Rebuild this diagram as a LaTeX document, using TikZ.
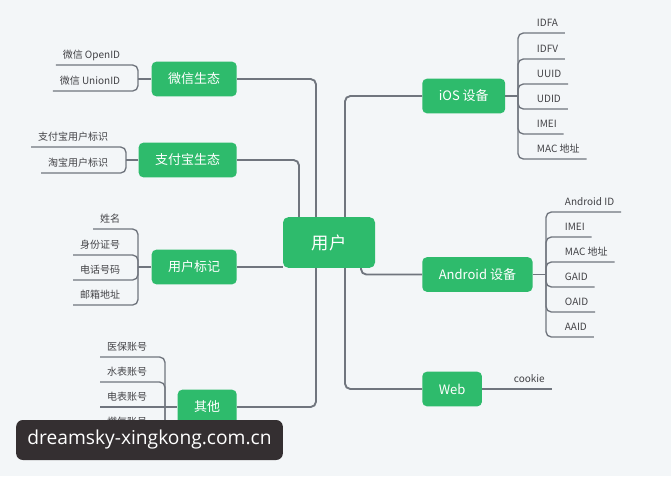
\documentclass[tikz,border=0pt]{standalone}
\usepackage{fontspec}
\setmainfont{Noto Sans CJK SC}
\newfontfamily\stampfont{Open Sans}
\usepackage{tikz}
\definecolor{mindgreen}{RGB}{46,187,108}
\definecolor{linegray}{RGB}{112,117,126}
\definecolor{leaftext}{RGB}{66,66,70}
\definecolor{canvas}{RGB}{243,246,248}
\definecolor{stampbg}{RGB}{52,47,49}

\begin{document}
\begin{tikzpicture}[x=0.75pt, y=-0.75pt,
      root/.style   = {fill=mindgreen, text=white, rounded corners=4pt,
                       minimum width=69pt, minimum height=38pt,
                       font=\fontsize{13}{15}\selectfont},
      branch/.style = {fill=mindgreen, text=white, rounded corners=3.5pt,
                       inner xsep=12.4pt, minimum height=26pt,
                       font=\fontsize{9.75}{11}\selectfont},
      leaf/.style   = {text=leaftext, inner xsep=5pt, inner ysep=0pt,
                       text depth=4.5pt, font=\fontsize{7.5}{9}\selectfont},
      leafL/.style  = {leaf, anchor=south east},
      leafR/.style  = {leaf, anchor=south west},
      trunk/.style  = {draw=linegray, line width=1.4pt, rounded corners=4pt},
      twig/.style   = {draw=linegray, line width=1pt, rounded corners=4pt},
      stamp/.style  = {fill=stampbg, text=white, rounded corners=5pt,
                       minimum width=200pt, minimum height=30pt,
                       font=\stampfont\fontsize{14.4}{17}\selectfont},
    ]

    % --- Sfondo ---
    \fill[canvas] (0,0) rectangle (671,476);
    \useasboundingbox (0,0) rectangle (671,476);

    % --- Rami (colonne X dei raccordi) ---
    \def\hubWx{138}
    \def\hubAp{126}
    \def\hubTag{138}
    \def\hubOt{165}
    \def\hubIos{518}
    \def\hubAnd{546}

    \node[branch, anchor=east] (wechat)  at (237,79)  {微信生态};
    \node[branch, anchor=east] (alipay)  at (237,160) {支付宝生态};
    \node[branch, anchor=east] (usertag) at (237,267) {用户标记};
    \node[branch, anchor=east] (other)   at (237,407) {其他};
    \node[root]                (user)    at (329,242.5) {用户};
    \node[branch, anchor=west] (ios)     at (422,96)  {iOS 设备};
    \node[branch, anchor=west] (android) at (422,274.5) {Android 设备};
    \node[branch, anchor=west] (web)     at (422,389) {Web};

    % --- Tronchi verso il nodo centrale ---
    \coordinate (tL) at (316,0);
    \coordinate (tA) at (299,0);
    \coordinate (tR) at (345,0);
    \coordinate (tD) at (361,0);
    \draw[trunk] (wechat.east) -| (user.north -| tL);
    \draw[trunk] (alipay.east) -| (user.north -| tA);
    \draw[trunk] (usertag.east) -- (usertag.east -| user.west);
    \draw[trunk] (other.east) -| (user.south -| tL);
    \draw[trunk] (ios.west) -| (user.north -| tR);
    \draw[trunk] (android.west) -| (user.south -| tD);
    \draw[trunk] (web.west) -| (user.south -| tR);

    % --- Foglie: 微信生态 ---
    \coordinate (wxhub) at (\hubWx,79);
    \draw[twig] (wechat.west) -- (wxhub);
    \foreach \t/\y [count=\i] in {微信 OpenID/65, 微信 UnionID/91}{
      \node[leafL] (wx\i) at (\hubWx-11,\y) {\t};
      \draw[twig] (wx\i.south west) -| (wxhub);
    }

    % --- Foglie: 支付宝生态 ---
    \coordinate (aphub) at (\hubAp,160);
    \draw[twig] (alipay.west) -- (aphub);
    \foreach \t/\y [count=\i] in {支付宝用户标识/147, 淘宝用户标识/173}{
      \node[leafL] (ap\i) at (\hubAp-11,\y) {\t};
      \draw[twig] (ap\i.south west) -| (aphub);
    }

    % --- Foglie: 用户标记 ---
    \coordinate (tghub) at (\hubTag,267);
    \draw[twig] (usertag.west) -- (tghub);
    \foreach \t/\y [count=\i] in {姓名/229, 身份证号/255, 电话号码/280, 邮箱地址/305}{
      \node[leafL] (tg\i) at (\hubTag-11,\y) {\t};
      \draw[twig] (tg\i.south west) -| (tghub);
    }

    % --- Foglie: 其他 (la quinta resta sotto il timbro) ---
    \coordinate (othub) at (\hubOt,407);
    \foreach \t/\y [count=\i] in {医保账号/357, 水表账号/382, 电表账号/407, 燃气账号/432}{
      \node[leafL] (ot\i) at (\hubOt-11,\y) {\t};
    }
    \coordinate (ot5) at (98,457);
    \draw[twig] (ot1.south west) -| (othub);
    \draw[twig] (ot2.south west) -| (othub);
    \draw[twig] (ot3.south west) -- (other.west);
    \draw[twig] (ot4.south west) -| (othub);
    \draw[twig] (ot5) -| (othub);

    % --- Foglie: iOS 设备 ---
    \coordinate (ioshub) at (\hubIos,96);
    \draw[twig] (ios.east) -- (ioshub);
    \foreach \t/\y [count=\i] in {IDFA/33, IDFV/59, UUID/84, UDID/109, IMEI/134, MAC 地址/159}{
      \node[leafR] (io\i) at (\hubIos+12,\y) {\t};
      \draw[twig] (io\i.south east) -| (ioshub);
    }

    % --- Foglie: Android 设备 ---
    \coordinate (andhub) at (\hubAnd,274.5);
    \draw[twig] (android.east) -- (andhub);
    \foreach \t/\y [count=\i] in {Android ID/212, IMEI/237, MAC 地址/262, GAID/287, OAID/312, AAID/337}{
      \node[leafR] (ad\i) at (\hubAnd+12,\y) {\t};
      \draw[twig] (ad\i.south east) -| (andhub);
    }

    % --- Foglie: Web ---
    \node[leafR] (cookie) at (507,389) {cookie};
    \draw[twig] (web.east) -- (cookie.south east);

    % --- Timbro ---
    \node[stamp] (mark) at (149.5,440) {dreamsky-xingkong.com.cn};

  \end{tikzpicture}
\end{document}
